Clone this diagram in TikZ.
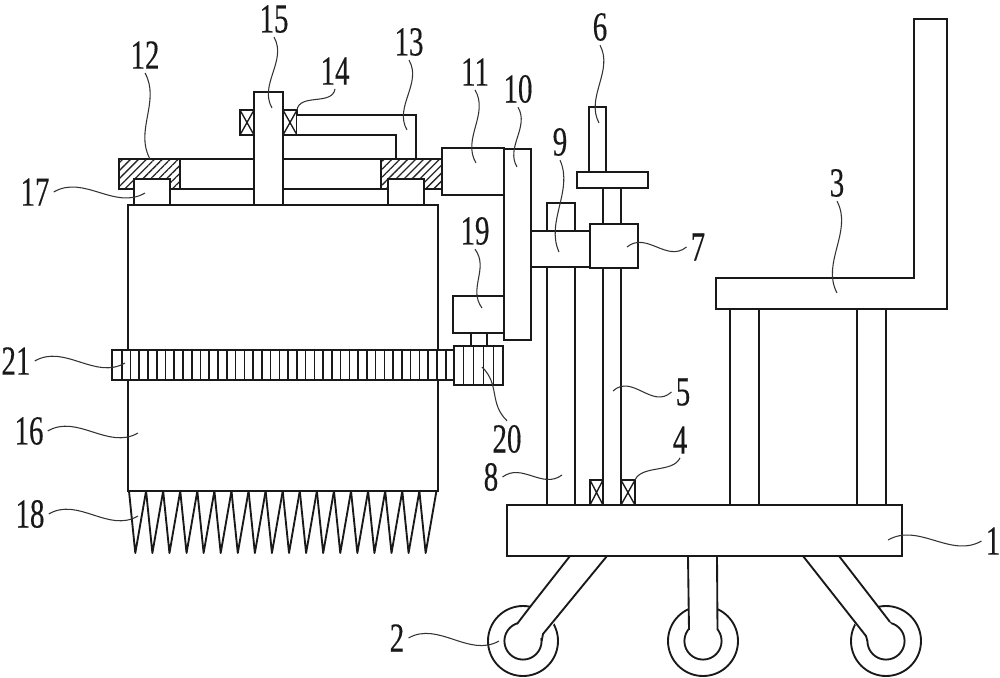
\documentclass[tikz,border=0pt]{standalone}
\usepackage{fontspec}
\usepackage{tikz}
\usetikzlibrary{calc, patterns.meta}
\newfontfamily\labfont[FakeStretch=0.7, FakeBold=0.3]{Liberation Serif}

\begin{document}
\begin{tikzpicture}[x=0.75pt, y=-0.75pt,
    part/.style={draw=black!90, fill=white, line width=1.4pt, line join=miter},
    hatched/.style={part, pattern={Lines[angle=45,distance=4.2pt,line width=1pt]}, pattern color=black!85},
    thin part/.style={draw=black!90, line width=1pt},
    leader/.style={draw=black!80, line width=0.8pt},
    lab/.style={font=\labfont\fontsize{31}{31}\selectfont, inner sep=3pt, text=black!90}
]
    \useasboundingbox (0,0) rectangle (1000,678);

    % === wheels and legs ===
    \foreach \wx in {523, 703, 886} {
        \draw[part] (\wx,641) circle (35);
        \draw[part] (\wx,641) circle (18.6);
    }
    \fill[white] (570,556) -- (607,556) -- (542,639) -- (517,624) -- cycle;
    \draw[part, fill=none] (570,556) -- (530,607) -- (517,624);
    \draw[part, fill=none] (607,556) -- (543,634) -- (541.6,641);
    \fill[white] (688,556) -- (717,556) -- (717,632) -- (689,632) -- cycle;
    \draw[part, fill=none] (688,556) -- (689,630);
    \draw[part, fill=none] (717,556) -- (717.5,630);
    \fill[white] (803,556) -- (839,556) -- (891,624) -- (868,641) -- cycle;
    \draw[part, fill=none] (803,556) -- (866,636) -- (867.4,641);
    \draw[part, fill=none] (839,556) -- (890,622);

    % === base, seat ===
    \draw[part] (507,505) rectangle (902,556);
    \foreach \sx in {730, 857} {
        \draw[part] (\sx,309) rectangle (\sx+29,505);
    }
    \draw[part] (716,278) -- (914,278) -- (914,19) -- (947,19) -- (947,309) -- (716,309) -- cycle;

    % === column and screw ===
    \draw[part] (547,267) rectangle (575,505);
    \draw[part] (603,188) rectangle (621,505);
    \draw[part] (589,107) rectangle (606,172);
    \draw[part] (577,172) rectangle (648,188);
    \draw[part] (547,203) rectangle (575,231);
    \draw[part] (531,231) rectangle (590,267);
    \draw[part] (590,224) rectangle (638,268);

    % === bearings ===
    \foreach \bx/\by/\bw/\bh in {590/480/13/25, 621/480/14/25, 240/110/14/25, 283/110/14/25} {
        \draw[part] (\bx,\by) rectangle (\bx+\bw,\by+\bh);
        \draw[thin part] (\bx,\by) -- (\bx+\bw,\by+\bh) (\bx+\bw,\by) -- (\bx,\by+\bh);
    }

    % === top plate and arm ===
    \draw[part] (180,159) rectangle (381,189);
    \draw[part] (297,115) -- (416,115) -- (416,159) -- (396,159) -- (396,135) -- (297,135);
    \draw[hatched] (119,159) -- (180,159) -- (180,189) -- (170,189) -- (170,179) -- (134,179) -- (134,189) -- (119,189) -- cycle;
    \draw[hatched] (381,159) -- (442,159) -- (442,189) -- (424,189) -- (424,179) -- (388,179) -- (388,189) -- (381,189) -- cycle;
    \draw[part] (134,179) rectangle (170,205);
    \draw[part] (388,179) rectangle (424,205);
    \draw[part] (170,189) rectangle (388,205);

    % === cutter body ===
    \draw[part] (128,205) rectangle (438,491);
    \draw[part] (254,92) rectangle (283,205);
    \draw[part] (442,148) rectangle (504,195);
    \draw[part] (453,296) rectangle (504,333);
    \draw[part] (471,333) rectangle (487,346);
    \draw[part] (504,149) rectangle (531,340);

    % === rack and gear ===
    \draw[part] (112,350) rectangle (454,380);
    \foreach \i in {0,...,37} {
        \draw[thin part, line width=1.2pt] (121.7+8.757*\i,350) -- (121.7+8.757*\i,380);
    }
    \draw[part] (454,346) rectangle (503,385);
    \foreach \i in {1,...,4} {
        \draw[thin part] (454+9.8*\i,346) -- (454+9.8*\i,385);
    }

    % === teeth ===
    \foreach \i in {0,...,17} {
        \draw[part, fill=none, line join=round] (129+17.08*\i,491) -- (135.3+17.08*\i,553) -- (146.08+17.08*\i,491);
    }

    % === labels and leaders ===
    \foreach \lab/\lx/\ly/\anch/\tx/\ty/\ox/\oy in {
        1/993/541/west/888/540/0/18, 2/397/638/east/499/641/0/-18,
        3/837/183/south/837/293/16/0, 4/680/440/south/635/480/8/8,
        5/683/392/west/613/391/0/18, 6/600/27/south/599/123/14/0,
        7/698/247/west/627/247/0/16, 8/491/477/east/562/475/0/-14,
        9/560/142/south/559/252/14/0, 10/518/89/south/517/167/12/0,
        11/475/72/south/476/163/14/0, 12/145/55/south/150/159/14/0,
        13/409/42/south/407/130/14/0, 14/335/71/south/297/110/10/10,
        15/274/19/south/272/108/14/0, 16/29/431/east/138/433/0/-18,
        17/35/192/east/145/193/0/-18, 18/30/514/east/138/516/0/-18,
        19/475/231/south/482/308/12/0, 20/507/439/north/482/367/-10/0,
        21/16/361/east/125/363/0/-18%
    } {
        \node[lab] (lab\lab) at (\lx,\ly) {\lab};
        \coordinate (end\lab) at (\tx,\ty);
        \draw[leader] (lab\lab.\anch) .. controls ($(lab\lab.\anch)!0.33!(end\lab)+(\ox,\oy)$) and ($(lab\lab.\anch)!0.67!(end\lab)-(\ox,\oy)$) .. (end\lab);
    }
\end{tikzpicture}
\end{document}
